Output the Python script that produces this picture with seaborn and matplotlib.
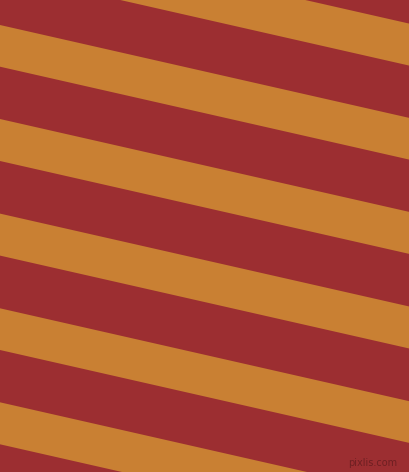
import numpy as np
import matplotlib
matplotlib.use("Agg")
import matplotlib.pyplot as plt
import seaborn as sns

orange_tops = [-69.3, 25.0, 119.0, 213.6, 308.3, 402.3]
orange_bottoms = [-27.3, 66.7, 161.0, 255.6, 350.0, 444.3]
slope = 0.227

red = "#9c2e31"
orange = "#c98033"

sns.set_theme(style="white")
plt.rcParams['font.family'] = ['DejaVu Sans']

fig = plt.figure(figsize=(4.09, 4.72), dpi=100, facecolor=red)
ax = fig.add_axes([0, 0, 1, 1])
ax.set_facecolor(red)

x = np.array([0, 409])
for top, bottom in zip(orange_tops, orange_bottoms):
    ax.fill_between(x, top + slope * x, bottom + slope * x, color=orange, linewidth=0)

ax.text(397, 463, "pixlis.com", color="#6e1f22", fontsize=7, ha="right", va="center")

ax.set_xlim(0, 409)
ax.set_ylim(472, 0)
ax.axis("off")

fig.savefig("out.png", dpi=100, facecolor=red)
